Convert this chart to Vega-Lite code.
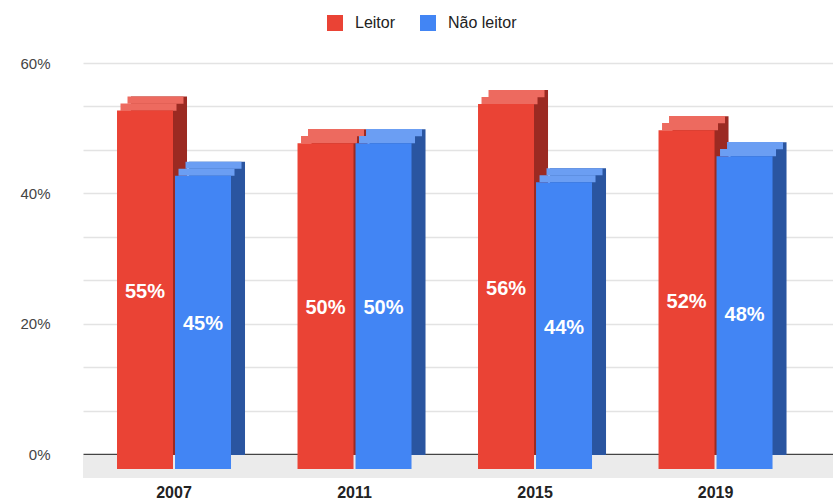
{
  "$schema": "https://vega.github.io/schema/vega-lite/v6.json",
  "width": 750,
  "height": 391,
  "autosize": "none",
  "padding": {"left": 83, "top": 63, "right": 0, "bottom": 48},
  "background": "white",
  "config": {"view": {"stroke": null}, "font": "Liberation Sans"},
  "data": {
    "values": [
      {"ano": "2007", "serie": "Leitor", "valor": 0.55, "rotulo": "55%"},
      {"ano": "2007", "serie": "Não leitor", "valor": 0.45, "rotulo": "45%"},
      {"ano": "2011", "serie": "Leitor", "valor": 0.50, "rotulo": "50%"},
      {"ano": "2011", "serie": "Não leitor", "valor": 0.50, "rotulo": "50%"},
      {"ano": "2015", "serie": "Leitor", "valor": 0.56, "rotulo": "56%"},
      {"ano": "2015", "serie": "Não leitor", "valor": 0.44, "rotulo": "44%"},
      {"ano": "2019", "serie": "Leitor", "valor": 0.52, "rotulo": "52%"},
      {"ano": "2019", "serie": "Não leitor", "valor": 0.48, "rotulo": "48%"}
    ]
  },
  "layer": [
    {
      "data": {"values": [{"topo": -0.0015, "base": -0.037}]},
      "mark": {"type": "rect", "color": "#ebebeb"},
      "encoding": {
        "y": {"field": "topo", "type": "quantitative", "scale": {"domain": [0, 0.6], "nice": false, "zero": false}},
        "y2": {"field": "base"}
      }
    },
    {
      "encoding": {
        "x": {
          "field": "ano",
          "type": "nominal",
          "scale": {"paddingInner": 0.3684, "paddingOuter": 0.2617, "align": 0.36},
          "axis": {
            "title": null,
            "labelAngle": 0,
            "labelFontWeight": "bold",
            "labelFontSize": 16,
            "labelColor": "#222222",
            "labelPadding": 30,
            "ticks": false,
            "domain": false,
            "grid": false
          }
        },
        "y": {
          "field": "valor",
          "type": "quantitative",
          "scale": {"domain": [0, 0.6], "nice": false, "zero": false},
          "axis": {
            "title": null,
            "values": [0, 0.0666667, 0.1333333, 0.2, 0.2666667, 0.3333333, 0.4, 0.4666667, 0.5333333, 0.6],
            "labelExpr": "abs(datum.value*5 - round(datum.value*5)) < 0.001 ? format(datum.value, '.0%') : ''",
            "labelFontSize": 15,
            "labelColor": "#444444",
            "labelPadding": 33,
            "ticks": false,
            "domain": false,
            "grid": true,
            "gridColor": {"condition": {"test": "datum.value === 0", "value": "#444444"}, "value": "#e3e3e3"},
            "gridWidth": 1.3
          }
        }
      },
      "layer": [
        {
          "mark": {"type": "bar", "yOffset": 1},
          "encoding": {
            "xOffset": {"field": "serie", "type": "nominal", "sort": ["Leitor", "Não leitor"], "scale": {"range": [14, 128], "paddingInner": 0.0345, "paddingOuter": 0}},
            "color": {"field": "serie", "type": "nominal", "scale": {"domain": ["Leitor", "Não leitor"], "range": ["#9b2a22", "#2a55a0"]}, "legend": null}
          }
        },
        {
          "mark": {"type": "tick", "yOffset": 4.5, "size": 56, "thickness": 7.2, "opacity": 1},
          "encoding": {
            "xOffset": {"field": "serie", "type": "nominal", "sort": ["Leitor", "Não leitor"], "scale": {"range": [10.5, 124.5], "paddingInner": 0.0345, "paddingOuter": 0}},
            "color": {"field": "serie", "type": "nominal", "scale": {"domain": ["Leitor", "Não leitor"], "range": ["#ed6a5f", "#6b9ef3"]}, "legend": null}
          }
        },
        {
          "mark": {"type": "tick", "yOffset": 11.5, "size": 56, "thickness": 7.2, "opacity": 1},
          "encoding": {
            "xOffset": {"field": "serie", "type": "nominal", "sort": ["Leitor", "Não leitor"], "scale": {"range": [3.5, 117.5], "paddingInner": 0.0345, "paddingOuter": 0}},
            "color": {"field": "serie", "type": "nominal", "scale": {"domain": ["Leitor", "Não leitor"], "range": ["#ed6a5f", "#6b9ef3"]}, "legend": null}
          }
        },
        {
          "mark": {"type": "bar", "yOffset": 15},
          "encoding": {
            "xOffset": {"field": "serie", "type": "nominal", "sort": ["Leitor", "Não leitor"], "scale": {"range": [0, 114], "paddingInner": 0.0345, "paddingOuter": 0}},
            "color": {
              "field": "serie",
              "type": "nominal",
              "scale": {"domain": ["Leitor", "Não leitor"], "range": ["#ea4335", "#4285f4"]},
              "legend": {
                "orient": "none",
                "legendX": 244,
                "legendY": -48,
                "direction": "horizontal",
                "title": null,
                "symbolType": "square",
                "symbolSize": 256,
                "symbolStrokeWidth": 0,
                "labelFontSize": 16,
                "labelColor": "#222222",
                "labelOffset": 12,
                "columnPadding": 24
              }
            }
          }
        },
        {
          "transform": [{"calculate": "datum.valor / 2", "as": "meio"}],
          "mark": {"type": "text", "yOffset": 17, "color": "white", "fontWeight": "bold", "fontSize": 20, "baseline": "middle", "align": "center"},
          "encoding": {
            "xOffset": {"field": "serie", "type": "nominal", "sort": ["Leitor", "Não leitor"], "scale": {"range": [28, 86], "padding": 0}},
            "y": {"field": "meio", "type": "quantitative"},
            "text": {"field": "rotulo"}
          }
        }
      ],
      "resolve": {"scale": {"color": "independent", "xOffset": "independent"}}
    }
  ],
  "resolve": {"scale": {"color": "independent", "xOffset": "independent"}}
}
